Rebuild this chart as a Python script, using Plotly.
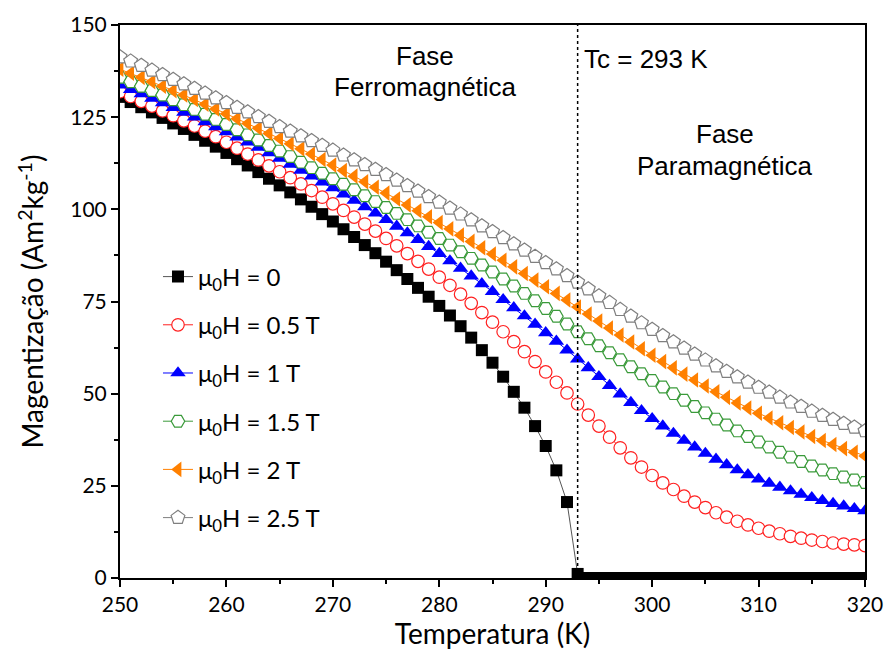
import plotly.graph_objects as go

temperature = list(range(250, 321))

m_0T = [130.5, 129.1, 127.7, 126.3, 124.8, 123.3, 121.8, 120.2, 118.6, 117.0,
        115.3, 113.6, 111.9, 110.1, 108.3, 106.5, 104.6, 102.7, 100.7, 98.7,
        96.7, 94.6, 92.5, 90.3, 88.1, 85.8, 83.5, 81.1, 78.7, 76.3,
        73.8, 71.2, 68.3, 65.2, 61.8, 58.4, 54.6, 50.5, 46.2, 41.2,
        35.8, 29.2, 20.6, 1.1, 0, 0, 0, 0, 0, 0,
        0, 0, 0, 0, 0, 0, 0, 0, 0, 0,
        0, 0, 0, 0, 0, 0, 0, 0, 0, 0, 0]

m_05T = [131.9, 130.6, 129.3, 128.0, 126.7, 125.4, 124.0, 122.6, 121.2, 119.7,
         118.2, 116.6, 115.0, 113.4, 111.8, 110.2, 108.6, 106.9, 105.1, 103.3,
         101.5, 99.7, 97.9, 96.0, 94.1, 92.1, 90.1, 88.0, 85.9, 83.8,
         81.6, 79.4, 77.0, 74.5, 72.0, 69.4, 66.8, 64.1, 61.4, 58.7,
         55.9, 53.1, 50.2, 47.2, 44.2, 41.2, 38.2, 35.3, 32.6, 30.1,
         27.8, 25.8, 24.0, 22.2, 20.6, 19.1, 17.7, 16.5, 15.4, 14.4,
         13.5, 12.7, 12.0, 11.3, 10.8, 10.3, 9.9, 9.5, 9.2, 9.0, 8.8]

m_1T = [133.7, 132.5, 131.3, 130.1, 128.9, 127.6, 126.3, 125.0, 123.7, 122.4,
        121.0, 119.6, 118.2, 116.8, 115.3, 113.8, 112.2, 110.6, 109.0, 107.4,
        105.8, 104.1, 102.4, 100.7, 99.0, 97.2, 95.4, 93.6, 91.8, 89.9,
        88.0, 86.0, 84.0, 81.9, 79.8, 77.7, 75.5, 73.3, 71.1, 68.8,
        66.5, 64.2, 61.8, 59.4, 57.0, 54.6, 52.2, 49.9, 47.6, 45.4,
        43.2, 41.2, 39.2, 37.3, 35.5, 33.8, 32.2, 30.7, 29.3, 28.0,
        26.8, 25.7, 24.6, 23.6, 22.7, 21.8, 21.0, 20.2, 19.5, 18.8, 18.2]

m_15T = [135.8, 134.6, 133.4, 132.2, 131.0, 129.7, 128.4, 127.1, 125.8, 124.4,
         123.0, 121.6, 120.2, 118.8, 117.3, 115.8, 114.3, 112.8, 111.3, 109.8,
         108.3, 106.8, 105.3, 103.7, 102.1, 100.5, 98.9, 97.2, 95.5, 93.8,
         92.1, 90.3, 88.5, 86.7, 84.9, 83.0, 81.1, 79.2, 77.2, 75.2,
         73.1, 71.0, 68.9, 66.8, 64.9, 63.0, 61.1, 59.2, 57.3, 55.4,
         53.6, 51.8, 50.0, 48.2, 46.5, 44.8, 43.1, 41.5, 39.9, 38.4,
         36.9, 35.5, 34.1, 32.8, 31.6, 30.4, 29.3, 28.3, 27.4, 26.6, 25.9]

m_2T = [138.0, 136.9, 135.8, 134.6, 133.4, 132.2, 131.0, 129.8, 128.5, 127.2,
        125.9, 124.6, 123.3, 122.0, 120.6, 119.2, 117.8, 116.4, 115.0, 113.5,
        112.0, 110.5, 109.0, 107.5, 106.0, 104.4, 102.8, 101.2, 99.6, 98.0,
        96.4, 94.7, 93.0, 91.3, 89.6, 87.9, 86.2, 84.4, 82.6, 80.8,
        79.0, 77.2, 75.4, 73.5, 71.6, 69.7, 67.8, 65.9, 64.0, 62.2,
        60.4, 58.7, 57.0, 55.3, 53.7, 52.1, 50.5, 49.0, 47.5, 46.1,
        44.7, 43.4, 42.1, 40.8, 39.6, 38.4, 37.3, 36.2, 35.1, 34.1, 33.1]

m_25T = [141.3, 140.2, 139.0, 137.7, 136.5, 135.2, 134.0, 132.8, 131.5, 130.2,
         128.9, 127.6, 126.4, 125.1, 123.8, 122.4, 121.2, 119.9, 118.6, 117.3,
         116.0, 114.7, 113.4, 112.1, 110.8, 109.4, 107.9, 106.4, 104.9, 103.4,
         101.9, 100.3, 98.7, 97.1, 95.5, 93.9, 92.3, 90.6, 88.9, 87.2,
         85.5, 83.8, 82.0, 80.2, 78.4, 76.5, 74.7, 72.8, 71.0, 69.2,
         67.4, 65.7, 64.0, 62.3, 60.7, 59.1, 57.5, 56.0, 54.5, 53.1,
         51.7, 50.4, 49.0, 47.7, 46.5, 45.2, 44.1, 43.0, 41.9, 40.9, 39.9]

series_names = ["μ<sub>0</sub>H = 0", "μ<sub>0</sub>H = 0.5 T", "μ<sub>0</sub>H = 1 T",
                "μ<sub>0</sub>H = 1.5 T", "μ<sub>0</sub>H = 2 T", "μ<sub>0</sub>H = 2.5 T"]
series_values = [m_0T, m_05T, m_1T, m_15T, m_2T, m_25T]

TC = 293
x_ticks = [250, 260, 270, 280, 290, 300, 310, 320]
y_ticks = [0, 25, 50, 75, 100, 125, 150]

styles = [
    dict(symbol="square", size=12, color="black", line=dict(width=0), linecolor="#555555"),
    dict(symbol="circle", size=12.5, color="white", line=dict(width=1.2, color="#FF2020"), linecolor="#FF2020"),
    dict(symbol="triangle-up", size=13.5, color="#0000FF", line=dict(width=0), linecolor="#0000FF"),
    dict(symbol="hexagon2", size=13.5, color="white", line=dict(width=1.2, color="#3A9A3A"), linecolor="#3A9A3A"),
    dict(symbol="triangle-left", size=13.5, color="#FF8000", line=dict(width=0), linecolor="#FF8000"),
    dict(symbol="pentagon", size=14.5, color="white", line=dict(width=1.2, color="#7F7F7F"), linecolor="#7F7F7F"),
]

fig = go.Figure()
for i, (name, vals, st) in enumerate(zip(series_names, series_values, styles)):
    fig.add_trace(go.Scatter(
        x=temperature, y=vals, name=name, mode="lines+markers",
        legendgroup="g%d" % i,
        line=dict(color=st["linecolor"], width=1),
        marker=dict(symbol=st["symbol"], size=st["size"], color=st["color"], line=st["line"]),
    ))

fig.add_shape(type="line", x0=TC, x1=TC, y0=0, y1=150, xref="x", yref="y",
              line=dict(color="black", width=1.5, dash="dot"))

ann_font = dict(family="Liberation Sans, Arial", size=26, color="black")
ann_texts = [("Fase", 278.7, 141.5, "center"), ("Ferromagnética", 278.7, 133.3, "center"),
             ("Tc = 293 K", TC + 0.45, 140.8, "left"),
             ("Fase", 306.8, 120.3, "center"), ("Paramagnética", 306.8, 111.7, "center")]
for txt, ax, ay, anchor in ann_texts:
    fig.add_annotation(x=ax, y=ay, xref="x", yref="y", text=txt, showarrow=False,
                       font=ann_font, xanchor=anchor)

tick_font = dict(family="Lato", size=21, color="black")
fig.update_xaxes(
    range=[250, 320], tickvals=x_ticks, ticks="outside", ticklen=7, tickwidth=1.5,
    tickcolor="black", showline=True, linewidth=2, linecolor="black", mirror=True,
    showgrid=False, zeroline=False, tickfont=tick_font, automargin=False,
    minor=dict(ticks="outside", ticklen=4, dtick=5, tickwidth=1.5, tickcolor="black", showgrid=False),
    title=dict(text="Temperatura (K)", font=dict(family="Lato", size=28, color="black"), standoff=6),
)
fig.update_yaxes(
    range=[0, 150], tickvals=y_ticks, ticks="outside", ticklen=7, tickwidth=1.5,
    tickcolor="black", showline=True, linewidth=2, linecolor="black", mirror=True,
    showgrid=False, zeroline=False, tickfont=tick_font, automargin=False,
    minor=dict(ticks="outside", ticklen=4, dtick=12.5, tickwidth=1.5, tickcolor="black", showgrid=False),
    title=dict(text="Magentização (Am<sup>2</sup>kg<sup>-1</sup>)",
               font=dict(family="Lato", size=28, color="black"), standoff=18),
)

fig.update_layout(
    width=886, height=656,
    margin=dict(l=120, r=21, t=25, b=78),
    plot_bgcolor="white", paper_bgcolor="white",
    legend=dict(x=0.051, y=0.585, xanchor="left", yanchor="top",
                font=dict(family="Lato", size=24, color="black"),
                bgcolor="rgba(0,0,0,0)", tracegroupgap=14),
)

fig.write_html("out.html")
